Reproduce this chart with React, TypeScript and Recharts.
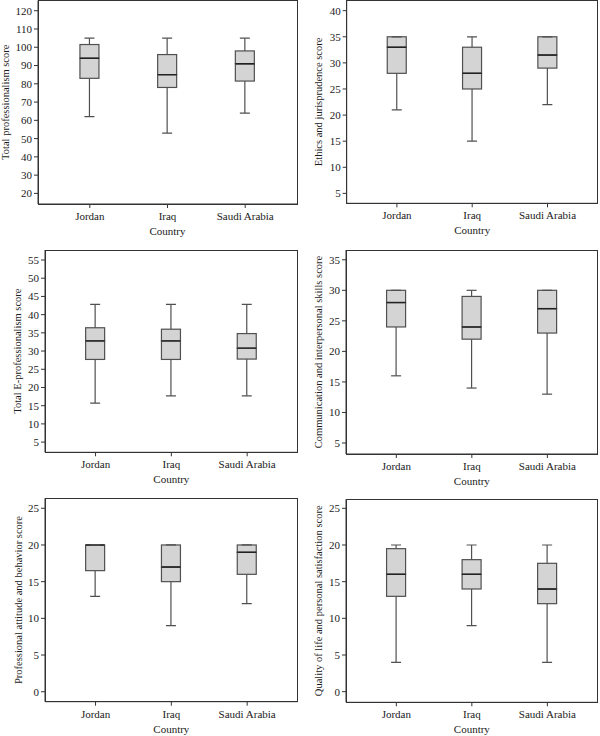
import { ComposedChart, Bar, XAxis, YAxis } from "recharts"

const countries = ["Jordan", "Iraq", "Saudi Arabia"]

// [min, q1, median, q3, max] for Jordan, Iraq, Saudi Arabia
const totalProfessionalism = [[62, 83, 94, 101.5, 105], [53, 78, 85, 96, 105], [64, 81.5, 91, 98, 105]]
const ethicsJurisprudence = [[21, 28, 33, 35, 35], [15, 25, 28, 33, 35], [22, 29, 31.5, 35, 35]]
const totalEProfessionalism = [[15.7, 27.7, 32.8, 36.4, 42.8], [17.7, 27.7, 32.8, 36, 42.8], [17.7, 27.8, 30.8, 34.8, 42.8]]
const communicationSkills = [[16, 24, 28, 30, 30], [14, 22, 24, 29, 30], [13, 23, 27, 30, 30]]
const attitudeBehavior = [[13, 16.5, 20, 20, 20], [9, 15, 17, 20, 20], [12, 16, 19, 20, 20]]
const qualityOfLife = [[4, 13, 16, 19.5, 20], [9, 14, 16, 18, 20], [4, 12, 14, 17.5, 20]]

const ticksTotal = [20, 30, 40, 50, 60, 70, 80, 90, 100, 110, 120]
const ticksEthics = [5, 10, 15, 20, 25, 30, 35, 40]
const ticksEProf = [5, 10, 15, 20, 25, 30, 35, 40, 45, 50, 55]
const ticksComm = [5, 10, 15, 20, 25, 30, 35]
const ticksTwentyFive = [0, 5, 10, 15, 20, 25]

const BOX_FILL = "#d4d4d4"
const EDGE = "#505050"
const FRAME = "#333"
const TEXT = "#1a1a1a"

const panels = [
  { label: "Total professionalism score", stats: totalProfessionalism, ticks: ticksTotal, domain: [14.2, 125.6],
    x: 0, y: 0, h: 245, top: 0.5, left: 0.5, right: 3, yw: 37.5, xh: 41 },
  { label: "Ethics and jurisprudence score", stats: ethicsJurisprudence, ticks: ticksEthics, domain: [3.1, 41.95],
    x: 300, y: 0, h: 245, top: 0.5, left: 13.3, right: 2.3, yw: 33.4, xh: 41.7 },
  { label: "Total E-professionalism score", stats: totalEProfessionalism, ticks: ticksEProf, domain: [2.2, 57.75],
    x: 0, y: 245, h: 245, top: 5, left: 12, right: 2.3, yw: 33, xh: 37.7 },
  { label: "Communication and interpersonal skills score", stats: communicationSkills, ticks: ticksComm, domain: [3.2, 36.6],
    x: 300, y: 245, h: 245, top: 5, left: 13, right: 2.3, yw: 33, xh: 36 },
  { label: "Professional attitude and behavior score", stats: attitudeBehavior, ticks: ticksTwentyFive, domain: [-1.36, 26.36],
    x: 0, y: 490, h: 246, top: 8.3, left: 13, right: 2.3, yw: 32, xh: 34.3 },
  { label: "Quality of life and personal satisfaction score", stats: qualityOfLife, ticks: ticksTwentyFive, domain: [-1.45, 26.23],
    x: 300, y: 490, h: 246, top: 9.3, left: 13, right: 2.3, yw: 33, xh: 33.7 },
]

const CAP = 10

const Empty = () => <g />

const LowWhisker = (p: any) => {
  const cx = p.x + p.width / 2
  const yb = p.y + p.height
  return (
    <g stroke={EDGE} strokeWidth={1.2}>
      <line x1={cx} x2={cx} y1={p.y} y2={yb} />
      <line x1={cx - CAP / 2} x2={cx + CAP / 2} y1={yb} y2={yb} />
    </g>
  )
}

const HighWhisker = (p: any) => {
  const cx = p.x + p.width / 2
  return (
    <g stroke={EDGE} strokeWidth={1.2}>
      <line x1={cx} x2={cx} y1={p.y} y2={p.y + p.height} />
      <line x1={cx - CAP / 2} x2={cx + CAP / 2} y1={p.y} y2={p.y} />
    </g>
  )
}

const LowBox = (p: any) => (
  <rect x={p.x} y={p.y} width={p.width} height={Math.max(p.height, 0)} fill={BOX_FILL} stroke={EDGE} strokeWidth={1.2} />
)

const HighBox = (p: any) => (
  <g>
    <rect x={p.x} y={p.y} width={p.width} height={Math.max(p.height, 0)} fill={BOX_FILL} stroke={EDGE} strokeWidth={1.2} />
    <line x1={p.x} x2={p.x + p.width} y1={p.y + p.height} y2={p.y + p.height} stroke="#222" strokeWidth={1.4} />
  </g>
)

function BoxPanel({ panel }: { panel: any }) {
  const rows = countries.map((c, i) => {
    const s = panel.stats[i]
    return { country: c, base: s[0], lw: s[1] - s[0], lb: s[2] - s[1], hb: s[3] - s[2], hw: s[4] - s[3] }
  })
  const plotW = 300 - panel.left - panel.yw - panel.right
  const plotH = panel.h - panel.top - panel.xh
  const pad = plotW * 0.05
  const tickStyle = { fontSize: 11, fill: TEXT }
  return (
    <div style={{ position: "absolute", left: panel.x, top: panel.y, width: 300, height: panel.h }}>
      <ComposedChart width={300} height={panel.h} data={rows}
        margin={{ top: panel.top, left: panel.left, right: panel.right, bottom: 0 }}>
        <XAxis dataKey="country" type="category" height={panel.xh} padding={{ left: pad, right: pad }}
          tick={tickStyle} tickSize={4} tickMargin={4} stroke={FRAME} tickLine={{ stroke: FRAME }}
          label={{ value: "Country", position: "insideTop", offset: 23,
            style: { fontSize: 11, fill: TEXT } }} />
        <YAxis type="number" domain={panel.domain} allowDataOverflow ticks={panel.ticks} width={panel.yw}
          tick={tickStyle} tickSize={4} tickMargin={2} stroke={FRAME} tickLine={{ stroke: FRAME }}
          label={{ value: panel.label, angle: -90, position: "insideLeft", offset: 5,
            style: { textAnchor: "middle", fontSize: 10.5, fill: TEXT } }} />
        <Bar dataKey="base" stackId="b" barSize={19} shape={Empty} isAnimationActive={false} />
        <Bar dataKey="lw" stackId="b" barSize={19} shape={LowWhisker} isAnimationActive={false} />
        <Bar dataKey="lb" stackId="b" barSize={19} shape={LowBox} isAnimationActive={false} />
        <Bar dataKey="hb" stackId="b" barSize={19} shape={HighBox} isAnimationActive={false} />
        <Bar dataKey="hw" stackId="b" barSize={19} shape={HighWhisker} isAnimationActive={false} />
      </ComposedChart>
      {/* plot frame */}
      <div style={{ position: "absolute", left: panel.left + panel.yw - 0.5, top: panel.top - 0.5,
        width: plotW + 1, height: plotH + 1, border: `1px solid ${FRAME}`, boxSizing: "border-box",
        pointerEvents: "none" }} />
    </div>
  )
}

export default function App() {
  return (
    <div style={{ position: "absolute", left: 0, top: 0, width: 600, height: 736, background: "#fff",
      fontFamily: "'Liberation Serif', serif" }}>
      {panels.map((p) => <BoxPanel key={p.label} panel={p} />)}
    </div>
  )
}
